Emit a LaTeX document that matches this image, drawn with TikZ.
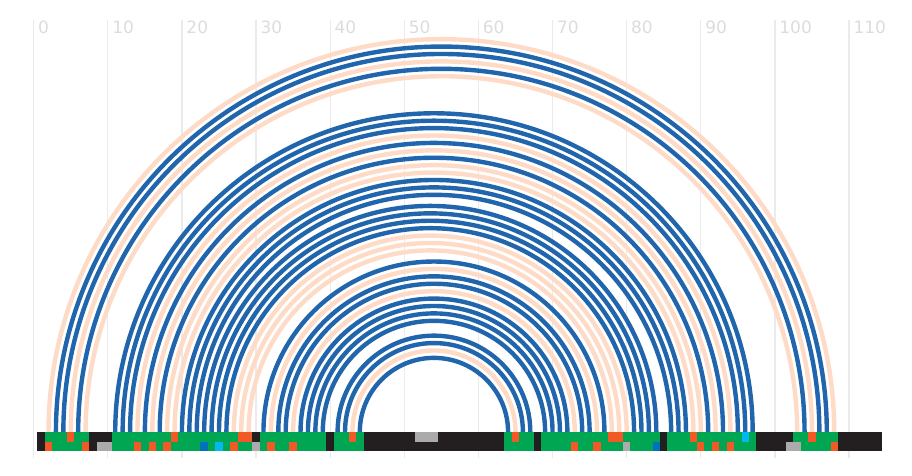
\documentclass[tikz,border=0pt]{standalone}
\usepackage{fontspec}
\setmainfont{DejaVu Sans}
\definecolor{arcblue}{HTML}{2166AC}
\definecolor{arcpeach}{HTML}{FDDBC7}
\definecolor{cG}{HTML}{00A651}
\definecolor{cO}{HTML}{F15A24}
\definecolor{cK}{HTML}{231F20}
\definecolor{cY}{HTML}{ABABAB}
\definecolor{cB}{HTML}{0072BC}
\definecolor{cC}{HTML}{00B9F1}
\definecolor{gridc}{HTML}{EBEBEB}
\definecolor{labc}{HTML}{DCDCDC}
\begin{document}
\begin{tikzpicture}[x=1pt,y=1pt,
  gridline/.style={draw=gridc,line width=1.2pt},
  ticklab/.style={text=labc,inner sep=0pt,anchor=base west,font=\fontsize{17}{17}\selectfont},
  bluearc/.style={draw=arcblue,line width=4.4pt},
  peacharc/.style={draw=arcpeach,line width=4.4pt}]
\useasboundingbox (0,0) rectangle (912,476);
\pgfmathsetmacro{\xo}{33.7}
\pgfmathsetmacro{\u}{7.412}
% grid and labels
\foreach \g in {0,10,...,110}{
  \draw[gridline] ({\xo+\u*\g},17.7) -- ({\xo+\u*\g},456);
  \node[ticklab] (l\g) at ({\xo+\u*\g+4.3},442.7) {\g};
}
% positions
\foreach \i in {1,...,114}{
  \coordinate (p\i) at ({\xo+\u*\i},44);
}
% arcs
\foreach \a/\b in {2/108,5/105,7/103,14/94,16/92,18/90,19/89,27/80,28/79,29/78,32/76,35/73,43/65}{
  \draw[peacharc] (p\a) arc[start angle=180,end angle=0,radius={(\b-\a)*\u/2}];
}
\foreach \a/\b in {3/107,4/106,6/104,11/97,12/96,13/95,15/93,17/91,20/88,21/87,22/86,23/84,24/83,25/82,26/81,31/77,33/75,34/74,36/72,37/71,38/70,39/69,41/67,42/66,44/64}{
  \draw[bluearc] (p\a) arc[start angle=180,end angle=0,radius={(\b-\a)*\u/2}];
}
% bar
\fill[cK] ({\xo+\u*0.5},25) rectangle ({\xo+\u*114.5},44);
\foreach \s/\e/\c in {2/4/cG,5/5/cO,6/7/cG,11/18/cG,19/19/cO,20/27/cG,28/29/cO,31/39/cG,41/42/cG,43/43/cO,44/44/cG,52/54/cY,64/64/cG,65/65/cO,66/67/cG,69/77/cG,78/79/cO,80/84/cG,86/88/cG,89/89/cO,90/95/cG,96/96/cC,97/97/cG,103/104/cG,105/105/cO,106/108/cG}{
  \fill[\c] ({\xo+\u*(\s-0.5)},34.3) rectangle ({\xo+\u*(\e+0.5)},44);
}
\foreach \s/\e/\c in {2/2/cO,3/6/cG,7/7/cO,9/10/cY,11/13/cG,14/14/cO,15/15/cG,16/16/cO,17/17/cG,18/18/cO,19/22/cG,23/23/cB,24/24/cG,25/25/cC,26/26/cG,27/27/cO,28/29/cG,30/30/cY,31/31/cG,32/32/cO,33/34/cG,35/35/cO,36/39/cG,41/44/cG,64/67/cG,69/72/cG,73/73/cO,74/75/cG,76/76/cO,77/79/cG,80/80/cY,81/83/cG,84/84/cB,86/89/cG,90/90/cO,91/91/cG,92/92/cO,93/93/cG,94/94/cO,95/97/cG,102/103/cY,104/107/cG,108/108/cO}{
  \fill[\c] ({\xo+\u*(\s-0.5)},25) rectangle ({\xo+\u*(\e+0.5)},34.3);
}
\end{tikzpicture}
\end{document}
